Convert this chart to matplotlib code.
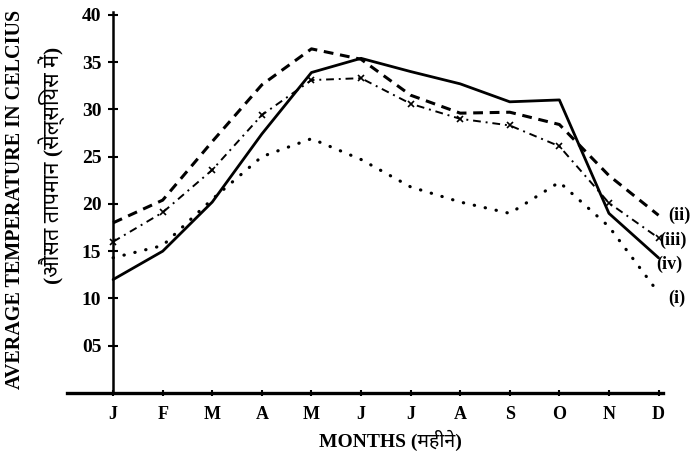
import numpy as np
import matplotlib.pyplot as plt

months = ['J', 'F', 'M', 'A', 'M', 'J', 'J', 'A', 'S', 'O', 'N', 'D']
yticks = [5, 10, 15, 20, 25, 30, 35, 40]
ytick_labels = ['05', '10', '15', '20', '25', '30', '35', '40']

# four stations, average monthly temperature
temp_i = [14.3, 15.6, 20.5, 25.0, 26.9, 24.7, 21.8, 20.2, 19.0, 22.3, 17.6, 10.6]
temp_ii = [18.0, 20.4, 26.6, 32.6, 36.4, 35.3, 31.5, 29.6, 29.7, 28.4, 23.0, 18.8]
temp_iii = [16.0, 19.1, 23.6, 29.4, 33.1, 33.3, 30.6, 29.0, 28.3, 26.1, 20.1, 16.4]
temp_iv = [12.0, 15.0, 20.2, 27.4, 33.9, 35.4, 34.0, 32.7, 30.8, 31.0, 19.0, 14.3]

serif = ['Liberation Serif', 'DejaVu Serif']
mixed = ['Liberation Serif', 'Noto Sans', 'DejaVu Sans']

fig = plt.figure(figsize=(6.97, 4.59), dpi=100)
ax = fig.add_axes([67 / 697, 66 / 459, 596 / 697, 381 / 459])

x = np.arange(len(months))
ax.plot(x, temp_iv, color='black', lw=2, solid_capstyle='round')
ax.plot(x, temp_ii, color='black', lw=2.2, linestyle=(0, (3.2, 2.2)))
ax.plot(x, temp_iii, color='black', lw=1.4, linestyle=(0, (4, 2.5, 1, 2.5)),
        marker='x', markersize=4, markeredgewidth=1.2)
ax.plot(x, temp_i, color='black', lw=2.3, linestyle=(0, (0.1, 3.4)),
        dash_capstyle='round')

# series names at the right end
labels = ['(ii)', '(iii)', '(iv)', '(i)']
label_y = [18.8, 16.1, 13.6, 10.0]
label_dx = [0.2, 0.02, -0.05, 0.2]
for lab, yy, dx in zip(labels, label_y, label_dx):
    ax.text(11 + dx, yy, lab, fontsize=13, fontweight='bold', family=serif,
            va='center', ha='left', clip_on=False)

ax.set_xlim(-0.93, 11.09)
ax.set_ylim(0, 40.3)

ax.spines['top'].set_visible(False)
ax.spines['right'].set_visible(False)
ax.spines['left'].set_position(('data', 0))
ax.spines['left'].set_linewidth(1.8)
ax.spines['bottom'].set_linewidth(2.4)

ax.set_yticks(yticks)
ax.set_yticklabels(ytick_labels, fontsize=14, fontweight='bold', family=serif)
ax.set_xticks(x)
ax.set_xticklabels(months, fontsize=13, fontweight='bold', family=serif)
ax.tick_params(axis='y', direction='inout', length=7, width=1.5, pad=5)
ax.tick_params(axis='x', direction='inout', length=5, width=1.5, pad=7)

fig.text(15 / 697, 0.5 + 30 / 459, 'AVERAGE TEMPERATURE IN CELCIUS', rotation=90,
         fontsize=14.5, fontweight='bold', family=serif, ha='center', va='center')
fig.text(52 / 697, 1 - 165 / 459, '(औसत तापमान (सेल्सियस में)', rotation=90,
         fontsize=15.5, fontweight='bold', family=mixed, ha='center', va='center')
fig.text(390 / 697, 1 - 440 / 459, 'MONTHS (महीने)', fontsize=14,
         fontweight='bold', family=mixed, ha='center', va='center')

fig.savefig('out.png', dpi=100)
